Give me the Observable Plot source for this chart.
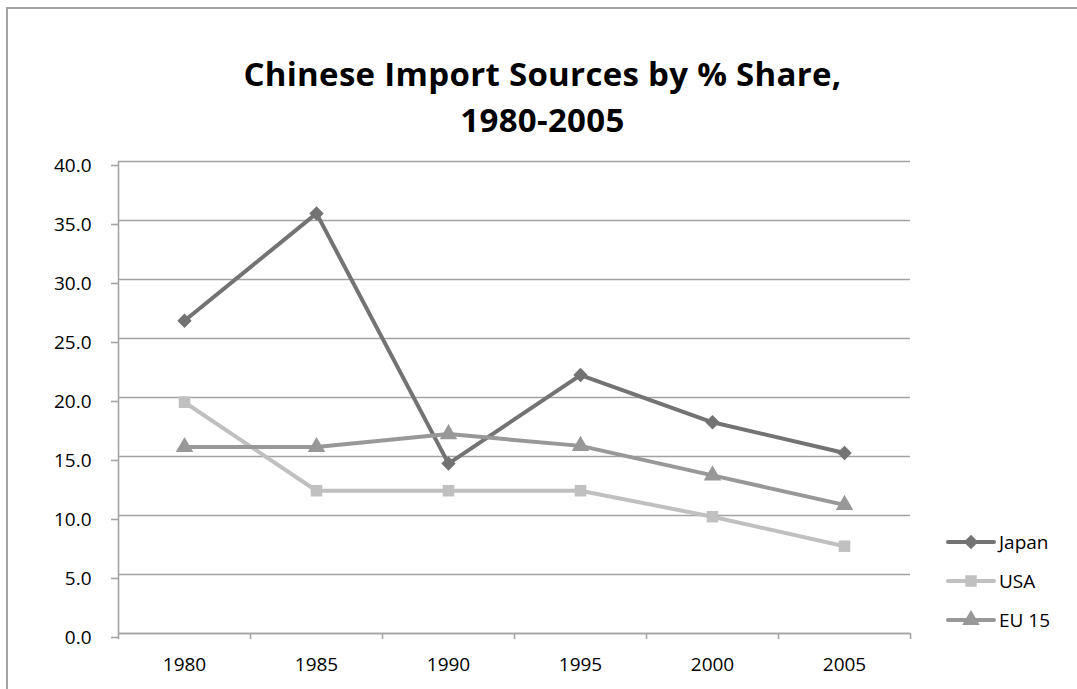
<!DOCTYPE html>
<html>
<head>
<meta charset="utf-8">
<script src="https://cdn.jsdelivr.net/npm/d3@7"></script>
<script src="https://cdn.jsdelivr.net/npm/@observablehq/plot@0.6"></script>
<style>
  html, body { margin: 0; padding: 0; background: #fff; overflow: hidden; }
  body { width: 1077px; height: 689px; position: relative; font-family: "Open Sans", sans-serif; }
  #frame { position: absolute; left: 6px; top: 7px; width: 1200px; height: 800px; border: 2px solid #a3a3a3; box-sizing: border-box; }
  #title { position: absolute; left: 4px; top: 51px; width: 1077px; text-align: center; font-weight: 700; font-size: 33px; letter-spacing: 0.3px; line-height: 46px; color: #000; }
  #chart { position: absolute; left: 0; top: 140px; }
  #legend { position: absolute; left: 946px; top: 522px; font-size: 19px; color: #000; }
  #legend .item { display: flex; align-items: center; height: 39px; }
  #legend svg { margin-right: 3px; }
</style>
</head>
<body>
<div id="frame"></div>
<div id="title">Chinese Import Sources by % Share,<br>1980-2005</div>
<div id="chart"></div>
<div id="legend"></div>
<script>
// Share of China's imports by source, percent
const years = [1980, 1985, 1990, 1995, 2000, 2005];
const japan = [26.5, 35.6, 14.4, 21.9, 17.9, 15.3];
const usa   = [19.6, 12.1, 12.1, 12.1, 9.9, 7.4];
const eu15  = [15.8, 15.8, 16.9, 15.9, 13.4, 10.9];

const seriesNames = ["Japan", "USA", "EU 15"];
const seriesColors = ["#737373", "#c0c0c0", "#989898"];
const seriesSymbols = ["diamond2", "square", "triangle"];
const yTicks = [0, 5, 10, 15, 20, 25, 30, 35, 40];

const rows = [];
[japan, usa, eu15].forEach((vals, i) => {
  vals.forEach((v, j) => rows.push({series: seriesNames[i], year: years[j], value: v}));
});

// category boundaries, half a step either side of each year
const step = years[1] - years[0];
const bounds = years.map(y => y - step / 2).concat([years[years.length - 1] + step / 2]);

const gridColor = "#a3a3a3";
const markerR = 6.5;

const chart = Plot.plot({
  width: 1077,
  height: 549,
  marginLeft: 118,
  marginRight: 167,
  marginTop: 21,
  marginBottom: 56,
  style: {fontFamily: "Open Sans, sans-serif", fontSize: "19px", color: "#000", background: "transparent"},
  x: {type: "linear", domain: [bounds[0], bounds[bounds.length - 1]]},
  y: {domain: [0, 40]},
  color: {domain: seriesNames, range: seriesColors},
  symbol: {domain: seriesNames, range: seriesSymbols},
  marks: [
    Plot.gridY(yTicks, {stroke: gridColor, strokeOpacity: 1, strokeWidth: 1.6}),
    Plot.axisY(yTicks, {tickFormat: d => d.toFixed(1), tickSize: 7, tickPadding: 20, stroke: gridColor, strokeWidth: 1.6, dy: 4, label: null, fill: "#000"}),
    Plot.ruleX([bounds[0]], {stroke: gridColor, strokeWidth: 1.6}),
    Plot.ruleY([0], {stroke: gridColor, strokeWidth: 1.6}),
    Plot.axisX(bounds, {tickFormat: () => "", tickSize: 6, stroke: gridColor, strokeWidth: 1.6, label: null}),
    Plot.axisX(years, {tickFormat: d => String(d), tickSize: 0, tickPadding: 24, label: null, fill: "#000"}),
    Plot.line(rows, {x: "year", y: "value", z: "series", stroke: "series", strokeWidth: 4, strokeLinejoin: "round"}),
    Plot.dot(rows, {x: "year", y: "value", symbol: "series", fill: "series", r: markerR, stroke: "none"})
  ]
});
document.getElementById("chart").appendChild(chart);

// legend swatches: line sample with the series marker
const legend = d3.select("#legend");
seriesNames.forEach((name, i) => {
  const item = legend.append("div").attr("class", "item");
  const svg = item.append("svg").attr("width", 50).attr("height", 20);
  svg.append("line").attr("x1", 2).attr("x2", 48).attr("y1", 10).attr("y2", 10)
    .attr("stroke", seriesColors[i]).attr("stroke-width", 4).attr("stroke-linecap", "round");
  const sym = {diamond2: d3.symbolDiamond2, square: d3.symbolSquare, triangle: d3.symbolTriangle}[seriesSymbols[i]];
  svg.append("path").attr("transform", "translate(25,10)")
    .attr("d", d3.symbol(sym, markerR * markerR * Math.PI)())
    .attr("fill", seriesColors[i]);
  item.append("span").text(name);
});
</script>
</body>
</html>
